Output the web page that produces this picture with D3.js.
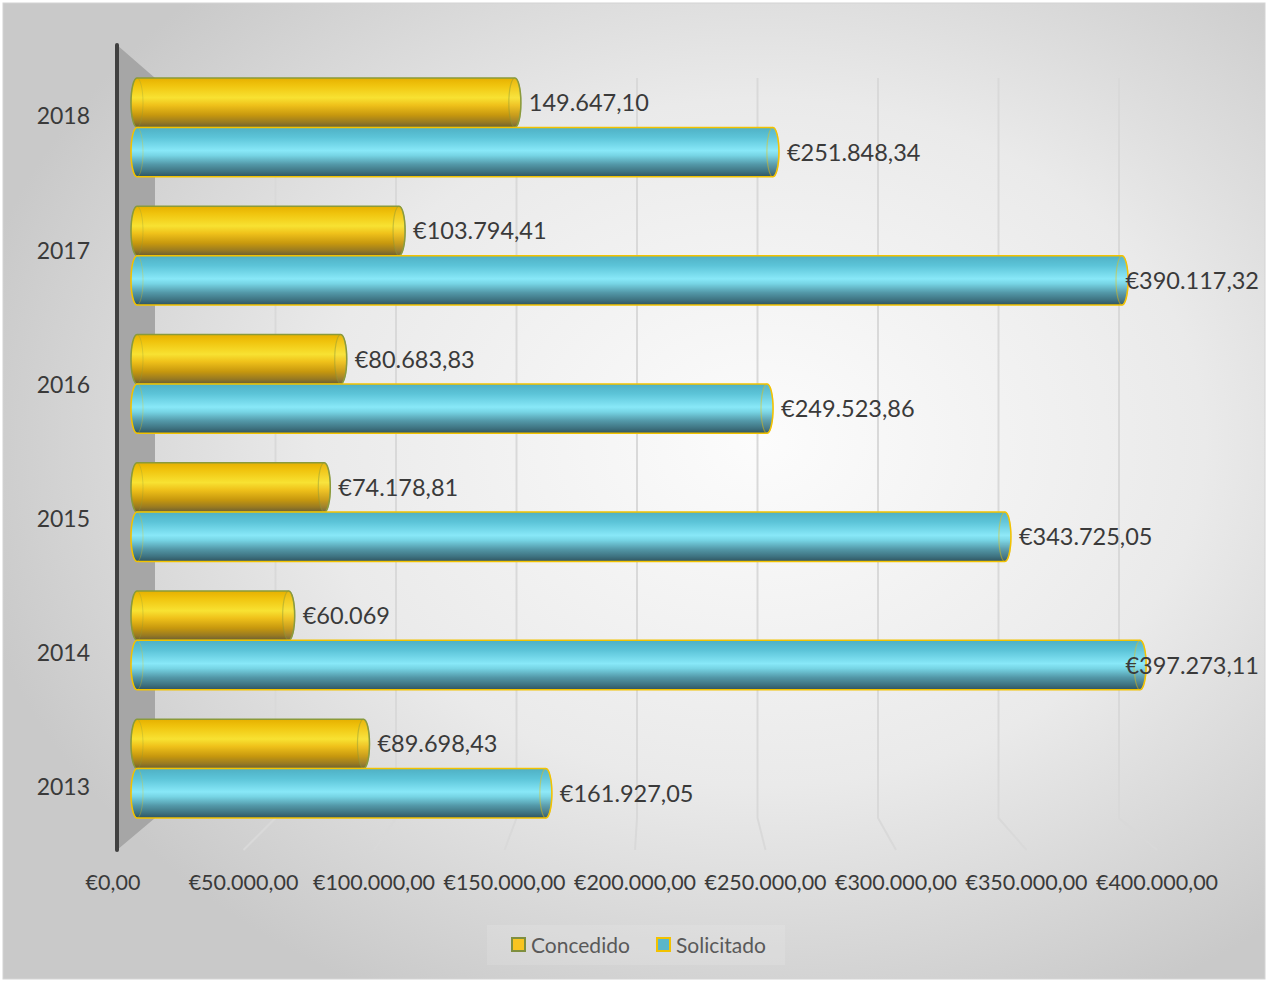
<!DOCTYPE html>
<html>
<head>
<meta charset="utf-8">
<script src="https://cdn.jsdelivr.net/npm/d3@7"></script>
<style>
  body { margin: 0; background: #fff; }
  text { font-family: Lato, "Open Sans", sans-serif; }
</style>
</head>
<body>
<div id="chart"></div>
<script>
var years = ["2013", "2014", "2015", "2016", "2017", "2018"];
var concedido = [89698.43, 60069, 74178.81, 80683.83, 103794.41, 149647.10];
var solicitado = [161927.05, 397273.11, 343725.05, 249523.86, 390117.32, 251848.34];
var concedidoLabels = ["€89.698,43", "€60.069", "€74.178,81", "€80.683,83", "€103.794,41", "149.647,10"];
var solicitadoLabels = ["€161.927,05", "€397.273,11", "€343.725,05", "€249.523,86", "€390.117,32", "€251.848,34"];
var tickValues = [0, 50000, 100000, 150000, 200000, 250000, 300000, 350000, 400000];
var tickLabels = ["€0,00", "€50.000,00", "€100.000,00", "€150.000,00", "€200.000,00", "€250.000,00", "€300.000,00", "€350.000,00", "€400.000,00"];
var seriesNames = ["Concedido", "Solicitado"];

var width = 1268, height = 982;
var wallTop = 78, wallBottom = 818, frontTop = 45, frontBottom = 850;

var svg = d3.select("#chart").append("svg")
  .attr("width", width)
  .attr("height", height);

var defs = svg.append("defs");

var bg = defs.append("radialGradient").attr("id", "bg")
  .attr("cx", 0.6).attr("cy", 0.45).attr("r", 0.64);
bg.append("stop").attr("offset", 0).attr("stop-color", "#fcfcfc");
bg.append("stop").attr("offset", 0.55).attr("stop-color", "#eaeaea");
bg.append("stop").attr("offset", 1).attr("stop-color", "#c9c9c9");

function vgrad(id, stops) {
  var g = defs.append("linearGradient").attr("id", id)
    .attr("x1", 0).attr("y1", 0).attr("x2", 0).attr("y2", 1);
  stops.forEach(function(s) {
    g.append("stop").attr("offset", s[0]).attr("stop-color", s[1]);
  });
}
vgrad("gold", [[0, "#e6b000"], [0.15, "#f0c40e"], [0.4, "#f8e232"], [0.55, "#efc11a"], [0.75, "#c7980e"], [0.9, "#987a22"], [1, "#6a5e34"]]);
vgrad("cyan", [[0, "#4fb0c4"], [0.2, "#5cc4d8"], [0.47, "#88e8f8"], [0.57, "#76d4e4"], [0.75, "#5398a8"], [0.9, "#3e7280"], [1, "#2f5460"]]);

var colors = { Concedido: "url(#gold)", Solicitado: "url(#cyan)" };
var strokes = { Concedido: "#8a9a3a", Solicitado: "#f2c200" };
var swatch = { Concedido: "#f8c420", Solicitado: "#5ab6ca" };

// background
svg.append("rect")
  .attr("x", 3).attr("y", 3)
  .attr("width", width - 6).attr("height", height - 6)
  .attr("fill", "url(#bg)")
  .attr("stroke", "#d4d4d4");

// scales
var xFront = d3.scaleLinear().domain([0, 400000]).range([113, 1157]);
var xBack = d3.scaleLinear().domain([0, 400000]).range([155, 1119]);
var xBar = d3.scaleLinear().domain([0, 400000]).range([137, 1147]);

var yBack = d3.scaleBand().domain(years.slice().reverse())
  .range([wallTop, wallBottom]).paddingInner(0.23).paddingOuter(0);
var ySub = d3.scaleBand().domain(seriesNames).range([0, yBack.bandwidth()]);
var yFront = d3.scaleBand().domain(years.slice().reverse()).range([frontTop, frontBottom]);

// side wall
svg.append("path")
  .attr("d", "M117," + frontTop + "L155," + wallTop + "L155," + wallBottom + "L117," + frontBottom + "Z")
  .attr("fill", "#a6a6a6");
svg.append("line")
  .attr("x1", 117).attr("x2", 117)
  .attr("y1", frontTop).attr("y2", frontBottom)
  .attr("stroke", "#404040").attr("stroke-width", 4)
  .attr("stroke-linecap", "round");

// grid on back wall + floor
var grid = svg.append("g");
grid.selectAll("path")
  .data(tickValues.slice(1))
  .enter().append("path")
  .attr("d", function(d) {
    return "M" + xBack(d) + "," + wallTop + "L" + xBack(d) + "," + wallBottom + "L" + xFront(d) + "," + frontBottom;
  })
  .attr("fill", "none")
  .attr("stroke", "#d9d9d9")
  .attr("stroke-width", 2);

// cylinders
function cylPath(x0, x1, y, h, rx) {
  return "M" + x0 + "," + y +
    "A" + rx + "," + (h / 2) + " 0 0 0 " + x0 + "," + (y + h) +
    "L" + x1 + "," + (y + h) +
    "A" + rx + "," + (h / 2) + " 0 0 0 " + x1 + "," + y + "Z";
}

var rows = years.map(function(y, i) {
  return [
    { year: y, series: "Concedido", value: concedido[i], label: concedidoLabels[i] },
    { year: y, series: "Solicitado", value: solicitado[i], label: solicitadoLabels[i] }
  ];
});
var flat = [].concat.apply([], rows);
var rx = 6;

var bars = svg.append("g").selectAll("g")
  .data(flat)
  .enter().append("g")
  .attr("transform", function(d) {
    return "translate(0," + (yBack(d.year) + ySub(d.series)) + ")";
  });

bars.append("path")
  .attr("d", function(d) { return cylPath(xBar(0), xBar(d.value), 0, ySub.bandwidth(), rx); })
  .attr("fill", function(d) { return colors[d.series]; })
  .attr("stroke", function(d) { return strokes[d.series]; })
  .attr("stroke-width", 1.5);

bars.append("ellipse")
  .attr("cx", xBar(0))
  .attr("cy", ySub.bandwidth() / 2)
  .attr("rx", rx).attr("ry", ySub.bandwidth() / 2)
  .attr("fill", "none")
  .attr("stroke", function(d) { return strokes[d.series]; })
  .attr("stroke-opacity", 0.3);

bars.append("ellipse")
  .attr("cx", function(d) { return xBar(d.value); })
  .attr("cy", ySub.bandwidth() / 2)
  .attr("rx", rx).attr("ry", ySub.bandwidth() / 2)
  .attr("fill", "#ffffff").attr("fill-opacity", 0.06)
  .attr("stroke", function(d) { return strokes[d.series]; })
  .attr("stroke-opacity", 0.45)
  .attr("stroke-width", 1.2);

// data labels
bars.append("text")
  .attr("y", ySub.bandwidth() / 2)
  .attr("dy", "0.36em")
  .attr("font-size", 23.5)
  .attr("fill", "#3a3a3a")
  .text(function(d) { return d.label; })
  .attr("x", function(d) {
    var w = this.getComputedTextLength();
    return Math.min(xBar(d.value) + rx + 8, 1259 - w);
  });

// category labels
svg.append("g").selectAll("text")
  .data(years)
  .enter().append("text")
  .attr("x", 90)
  .attr("y", function(d) { return yFront(d) + yFront.bandwidth() / 2 + 4; })
  .attr("dy", "0.36em")
  .attr("text-anchor", "end")
  .attr("font-size", 23)
  .attr("fill", "#3a3a3a")
  .text(function(d) { return d; });

// value axis labels
svg.append("g").selectAll("text")
  .data(tickValues)
  .enter().append("text")
  .attr("x", function(d) { return xFront(d); })
  .attr("y", 882)
  .attr("dy", "0.36em")
  .attr("text-anchor", "middle")
  .attr("font-size", 21.5)
  .attr("fill", "#3a3a3a")
  .text(function(d, i) { return tickLabels[i]; });

// legend
var legend = svg.append("g");
legend.append("rect")
  .attr("x", 487).attr("y", 925)
  .attr("width", 298).attr("height", 40)
  .attr("fill", "#ffffff").attr("fill-opacity", 0.12);
var legendX = { Concedido: 512, Solicitado: 657 };
var items = legend.selectAll("g")
  .data(seriesNames)
  .enter().append("g")
  .attr("transform", function(d) { return "translate(" + legendX[d] + ",945)"; });
items.append("rect")
  .attr("x", 0).attr("y", -7)
  .attr("width", 13).attr("height", 13)
  .attr("fill", function(d) { return swatch[d]; })
  .attr("stroke", function(d) { return d == "Concedido" ? "#7f8f3f" : "#f2c200"; })
  .attr("stroke-width", 2);
items.append("text")
  .attr("x", 19).attr("y", 0)
  .attr("dy", "0.36em")
  .attr("font-size", 21)
  .attr("fill", "#595959")
  .text(function(d) { return d; });
</script>
</body>
</html>
